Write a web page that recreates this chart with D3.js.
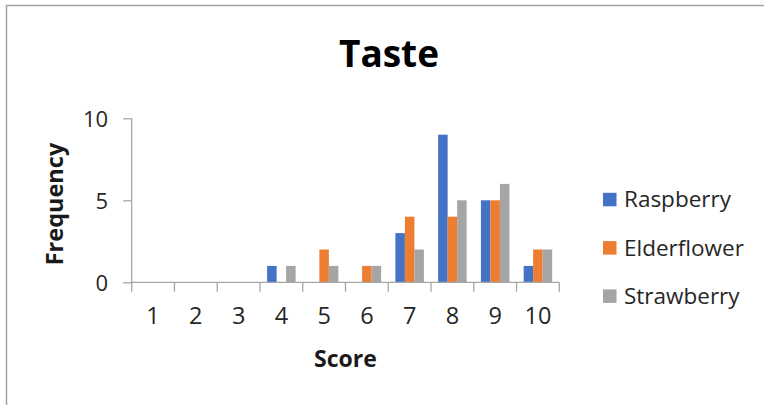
<!DOCTYPE html>
<html>
<head>
<meta charset="utf-8">
<script src="https://cdn.jsdelivr.net/npm/d3@7"></script>
<style>
  html, body { margin: 0; padding: 0; background: #fff; }
  svg { display: block; font-family: "Open Sans", sans-serif; }
</style>
</head>
<body>
<svg id="chart" width="764" height="405"></svg>
<script>
// Taste scores: how many tasters gave each score, per flavour
const scores = ["1", "2", "3", "4", "5", "6", "7", "8", "9", "10"];
const seriesNames = ["Raspberry", "Elderflower", "Strawberry"];
const raspberry   = [0, 0, 0, 1, 0, 0, 3, 9, 5, 1];
const elderflower = [0, 0, 0, 0, 2, 1, 4, 4, 5, 2];
const strawberry  = [0, 0, 0, 1, 1, 1, 2, 5, 6, 2];
const yTicks = [0, 5, 10];
const colors = ["#4472C4", "#ED7D31", "#A5A5A5"];

const seriesValues = [raspberry, elderflower, strawberry];

const svg = d3.select("#chart");

// outer frame
svg.append("path")
  .attr("d", "M6.5,405 V5.5 H764")
  .attr("fill", "none")
  .attr("stroke", "#a3a3a3")
  .attr("stroke-width", 1.5);

const plot = { left: 131.7, right: 559.3, top: 118.3, bottom: 282.3 };

const x = d3.scaleBand().domain(scores).range([plot.left, plot.right]).paddingInner(0).paddingOuter(0);
const xs = d3.scaleBand().domain(seriesNames).range([0, x.bandwidth()]).paddingInner(0).paddingOuter(0.75);
const y = d3.scaleLinear().domain([0, 10]).range([plot.bottom, plot.top]);

// bars
seriesNames.forEach((name, si) => {
  svg.append("g")
    .selectAll("rect")
    .data(scores.map((s, i) => ({ s, v: seriesValues[si][i] })))
    .join("rect")
    .attr("x", d => x(d.s) + xs(name))
    .attr("y", d => y(d.v))
    .attr("width", xs.bandwidth())
    .attr("height", d => y(0) - y(d.v))
    .attr("fill", colors[si]);
});

const axisColor = "#a6a6a6";

// y axis
const yAxis = svg.append("g")
  .attr("transform", `translate(${plot.left},0)`)
  .call(d3.axisLeft(y).tickValues(yTicks).tickSize(8.5).tickPadding(15));
yAxis.select(".domain").remove();
yAxis.selectAll(".tick line").attr("stroke", axisColor).attr("stroke-width", 1.3);
yAxis.selectAll(".tick text")
  .attr("font-family", "'Open Sans', sans-serif")
  .attr("font-size", 22)
  .attr("fill", "#262626")
  .attr("dy", "0.36em");
svg.append("line")
  .attr("x1", plot.left).attr("x2", plot.left)
  .attr("y1", plot.top).attr("y2", plot.bottom + 9.4)
  .attr("stroke", axisColor).attr("stroke-width", 1.3);

// x axis
const xAxis = svg.append("g")
  .attr("transform", `translate(0,${plot.bottom})`)
  .call(d3.axisBottom(x).tickSize(0).tickPadding(25));
xAxis.select(".domain").remove();
xAxis.selectAll(".tick text")
  .attr("font-family", "'Open Sans', sans-serif")
  .attr("font-size", 23.5)
  .attr("fill", "#262626");
svg.append("line")
  .attr("x1", plot.left).attr("x2", plot.right)
  .attr("y1", plot.bottom).attr("y2", plot.bottom)
  .attr("stroke", axisColor).attr("stroke-width", 1.3);
// category boundary ticks
svg.append("g")
  .selectAll("line")
  .data(scores.slice(1).concat(["end"]))
  .join("line")
  .attr("x1", d => d === "end" ? plot.right : x(d))
  .attr("x2", d => d === "end" ? plot.right : x(d))
  .attr("y1", plot.bottom).attr("y2", plot.bottom + 9.4)
  .attr("stroke", axisColor).attr("stroke-width", 1.3);

// title
svg.append("text")
  .attr("x", 389).attr("y", 67)
  .attr("text-anchor", "middle")
  .attr("font-size", 37).attr("font-weight", 700)
  .attr("fill", "#000")
  .text("Taste");

// axis titles
svg.append("text")
  .attr("x", (plot.left + plot.right) / 2).attr("y", 367)
  .attr("text-anchor", "middle")
  .attr("font-size", 23).attr("font-weight", 700)
  .attr("fill", "#1a1a1a")
  .text("Score");

svg.append("text")
  .attr("transform", "translate(63,204) rotate(-90)")
  .attr("text-anchor", "middle")
  .attr("font-size", 23.5).attr("font-weight", 700)
  .attr("fill", "#1a1a1a")
  .text("Frequency");

// legend
const legend = svg.append("g")
  .selectAll("g")
  .data(seriesNames)
  .join("g")
  .attr("transform", (d, i) => `translate(603,${199.3 + i * 48.3})`);
legend.append("rect")
  .attr("x", 0).attr("y", -6.5)
  .attr("width", 13.5).attr("height", 13.5)
  .attr("fill", (d, i) => colors[i]);
legend.append("text")
  .attr("x", 21).attr("y", 0)
  .attr("dy", "0.36em")
  .attr("font-size", 22.5)
  .attr("fill", "#262626")
  .text(d => d);
</script>
</body>
</html>
